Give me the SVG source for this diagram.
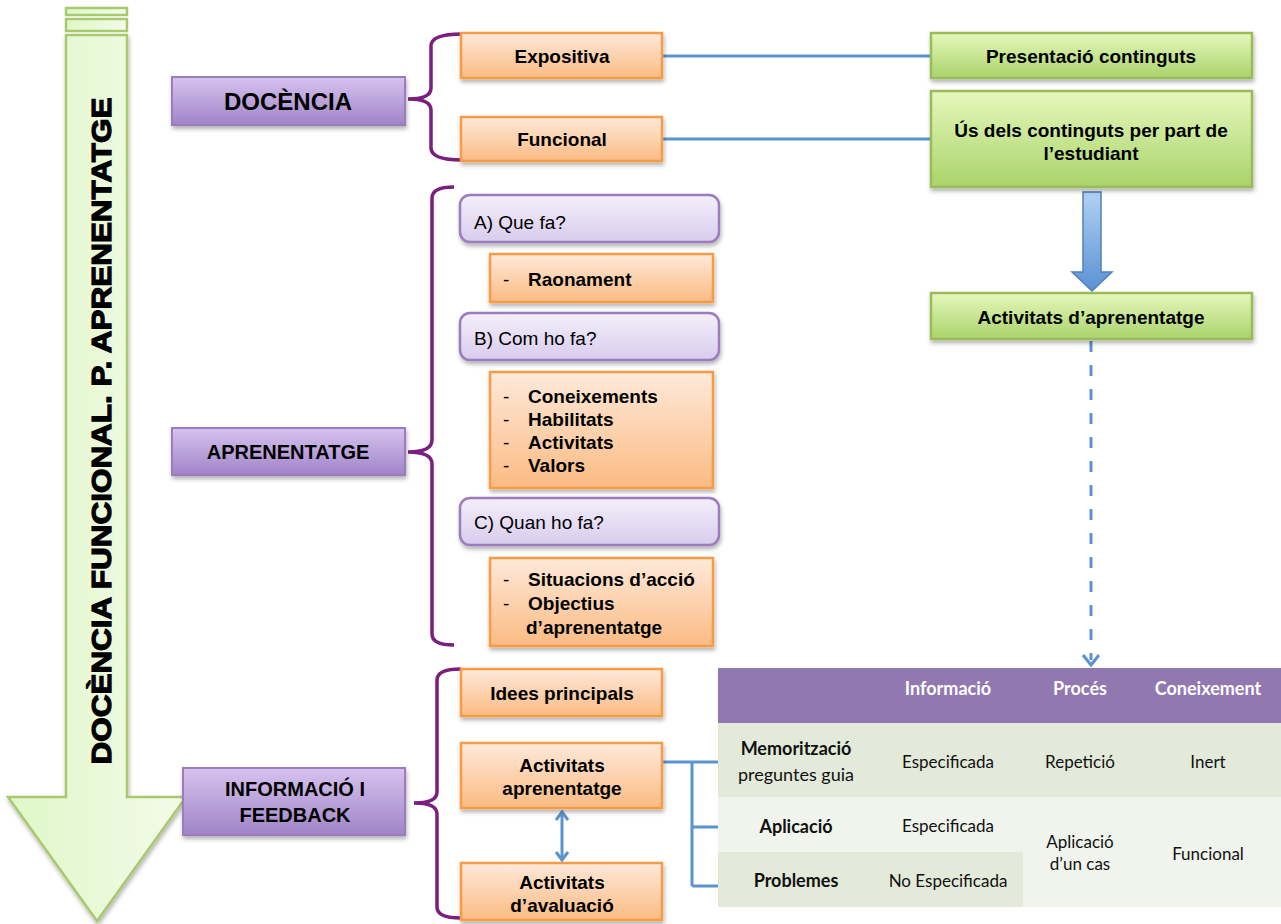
<svg xmlns="http://www.w3.org/2000/svg" width="1281" height="924" viewBox="0 0 1281 924">
<defs>
<linearGradient id="gPurple" x1="0" y1="0" x2="0" y2="1"><stop offset="0" stop-color="#d6c3ef"/><stop offset="1" stop-color="#a084c7"/></linearGradient>
<linearGradient id="gLilac" x1="0" y1="0" x2="0" y2="1"><stop offset="0" stop-color="#f4effa"/><stop offset="1" stop-color="#d9cced"/></linearGradient>
<linearGradient id="gOrange" x1="0" y1="0" x2="0" y2="1"><stop offset="0" stop-color="#fee9da"/><stop offset="1" stop-color="#fbbb83"/></linearGradient>
<linearGradient id="gGreen" x1="0" y1="0" x2="0" y2="1"><stop offset="0" stop-color="#e5f8bc"/><stop offset="1" stop-color="#aad36b"/></linearGradient>
<linearGradient id="gShaft" x1="0" y1="0" x2="1" y2="0"><stop offset="0" stop-color="#def7c8"/><stop offset="1" stop-color="#f4fbe9"/></linearGradient>
<linearGradient id="gBlue" x1="0" y1="0" x2="0" y2="1"><stop offset="0" stop-color="#b2d0f3"/><stop offset="1" stop-color="#5a92d4"/></linearGradient>
<filter id="sh" x="-10%" y="-10%" width="130%" height="140%"><feDropShadow dx="1" dy="3" stdDeviation="2" flood-color="#000" flood-opacity="0.3"/></filter>
<marker id="chevR" viewBox="0 0 14 14" refX="12" refY="7" markerWidth="14" markerHeight="14" markerUnits="userSpaceOnUse" orient="auto-start-reverse"><path d="M4 1 L12 7 L4 13" fill="none" stroke="#5b93cf" stroke-width="3"/></marker>
</defs>
<style>
.t{font-family:"Liberation Sans",Arial,sans-serif;fill:#000}
.b{font-weight:bold}
.f19{font-size:19px}
.pbox{fill:url(#gPurple);stroke:#9a7cbf;stroke-width:2;filter:url(#sh)}
.lbox{fill:url(#gLilac);stroke:#9a7cbf;stroke-width:2.5;filter:url(#sh)}
.obox{fill:url(#gOrange);stroke:#f79b46;stroke-width:2.5;filter:url(#sh)}
.gbox{fill:url(#gGreen);stroke:#9bbb59;stroke-width:2.5;filter:url(#sh)}
.brace{fill:none;stroke:#7a1e80;stroke-width:3.5}
.conn{fill:none;stroke:#5b93cf;stroke-width:3}
.tb{font-family:Lato,"Open Sans",sans-serif;font-size:17px;fill:#111;text-anchor:middle}
.tl{font-size:18px}
.th{font-family:Lato,"Open Sans",sans-serif;font-size:18px;font-weight:bold;fill:#fff;text-anchor:middle}
</style>

<g id="main-arrow">
<rect x="66" y="8" width="61" height="7" fill="url(#gShaft)" stroke="#a8c96e" stroke-width="2.5"/>
<rect x="66" y="19" width="61" height="12" fill="url(#gShaft)" stroke="#a8c96e" stroke-width="2.5"/>
<path d="M66 35 L127 35 L127 797 L186 797 L97 921 L8 797 L66 797 Z" fill="url(#gShaft)" stroke="#a8c96e" stroke-width="2.5" filter="url(#sh)"/>
<text class="t b" font-size="28" stroke="#000" stroke-width="1.2" text-anchor="middle" textLength="667" lengthAdjust="spacingAndGlyphs" transform="translate(111,431) rotate(-90)">DOCÈNCIA FUNCIONAL. P. APRENENTATGE</text>
</g>

<g id="connectors">
<path class="conn" d="M662 56 H931"/>
<path class="conn" d="M662 139 H931"/>
<path d="M1091 341 V660" fill="none" stroke="#5b93cf" stroke-width="3" stroke-dasharray="11 13"/>
<path d="M1083 655 L1091 665 L1099 655" fill="none" stroke="#5b93cf" stroke-width="3"/>
<path class="conn" d="M662 762 H718 M692 762 V886 M692 827 H718 M692 886 H718"/>
<path class="conn" d="M562 812 V860" marker-start="url(#chevR)" marker-end="url(#chevR)"/>
<path d="M1083 192 H1101 V272 H1112 L1092 291 L1072 272 H1083 Z" fill="url(#gBlue)" stroke="#4f81bd" stroke-width="1.5"/>
<path class="brace" d="M462 34 Q431 34 431 46 L431 88 Q431 99 408 99 Q431 99 431 110 L431 148 Q431 160 462 160"/>
<path class="brace" d="M454 187 Q432 187 432 198 L432 440 Q432 452 408 452 Q432 452 432 464 L432 634 Q432 645 454 645"/>
<path class="brace" d="M461 669 Q437 669 437 680 L437 792 Q437 803 414 803 Q437 803 437 814 L437 907 Q437 918 461 918"/>
</g>

<g id="docencia"><rect class="pbox" x="172" y="77" width="233" height="48"/><text class="t b" font-size="24" x="288" y="110" text-anchor="middle">DOCÈNCIA</text></g>
<g id="aprenentatge"><rect class="pbox" x="172" y="428" width="233" height="47"/><text class="t b" font-size="20" x="288" y="459" text-anchor="middle">APRENENTATGE</text></g>
<g id="informacio"><rect class="pbox" x="183" y="768" width="222" height="67"/><text class="t b" font-size="20" x="295" y="796" text-anchor="middle">INFORMACIÓ I</text><text class="t b" font-size="20" x="295" y="822" text-anchor="middle">FEEDBACK</text></g>

<g id="expositiva"><rect class="obox" x="461" y="33" width="201" height="45"/><text class="t b f19" x="562" y="63" text-anchor="middle">Expositiva</text></g>
<g id="funcional"><rect class="obox" x="461" y="117" width="201" height="44"/><text class="t b f19" x="562" y="146" text-anchor="middle">Funcional</text></g>

<g id="que-fa"><rect class="lbox" x="460" y="195" width="259" height="47" rx="10"/><text class="t f19" x="474" y="229">A) Que fa?</text></g>
<g id="raonament"><rect class="obox" x="490" y="254" width="223" height="48"/><text class="t f19" x="503" y="286">-</text><text class="t b f19" x="528" y="286">Raonament</text></g>
<g id="com-ho-fa"><rect class="lbox" x="460" y="313" width="259" height="47" rx="10"/><text class="t f19" x="474" y="345">B) Com ho fa?</text></g>
<g id="coneixements"><rect class="obox" x="490" y="372" width="223" height="116"/>
<text class="t f19" x="503" y="403">-</text><text class="t b f19" x="528" y="403">Coneixements</text>
<text class="t f19" x="503" y="426">-</text><text class="t b f19" x="528" y="426">Habilitats</text>
<text class="t f19" x="503" y="449">-</text><text class="t b f19" x="528" y="449">Activitats</text>
<text class="t f19" x="503" y="472">-</text><text class="t b f19" x="528" y="472">Valors</text></g>
<g id="quan-ho-fa"><rect class="lbox" x="460" y="498" width="259" height="47" rx="10"/><text class="t f19" x="474" y="529">C) Quan ho fa?</text></g>
<g id="situacions"><rect class="obox" x="490" y="558" width="223" height="88"/>
<text class="t f19" x="503" y="586">-</text><text class="t b f19" x="528" y="586">Situacions d’acció</text>
<text class="t f19" x="503" y="610">-</text><text class="t b f19" x="528" y="610">Objectius</text>
<text class="t b f19" x="526" y="634">d’aprenentatge</text></g>

<g id="idees"><rect class="obox" x="461" y="669" width="201" height="47"/><text class="t b f19" x="562" y="700" text-anchor="middle">Idees principals</text></g>
<g id="act-aprenentatge"><rect class="obox" x="461" y="743" width="201" height="65"/><text class="t b f19" x="562" y="772" text-anchor="middle">Activitats</text><text class="t b f19" x="562" y="795" text-anchor="middle">aprenentatge</text></g>
<g id="act-avaluacio"><rect class="obox" x="461" y="863" width="201" height="57"/><text class="t b f19" x="562" y="889" text-anchor="middle">Activitats</text><text class="t b f19" x="562" y="912" text-anchor="middle">d’avaluació</text></g>

<g id="presentacio"><rect class="gbox" x="931" y="33" width="321" height="45"/><text class="t b f19" x="1091" y="63" text-anchor="middle">Presentació continguts</text></g>
<g id="us-continguts"><rect class="gbox" x="931" y="91" width="321" height="96"/><text class="t b f19" x="1091" y="137" text-anchor="middle">Ús dels continguts per part de</text><text class="t b f19" x="1091" y="160" text-anchor="middle">l’estudiant</text></g>
<g id="activitats-aprenentatge"><rect class="gbox" x="931" y="293" width="321" height="46"/><text class="t b f19" x="1091" y="324" text-anchor="middle">Activitats d’aprenentatge</text></g>

<g id="table">
<rect x="718" y="668" width="563" height="55" fill="#9178b0"/>
<rect x="718" y="723" width="563" height="74" fill="#e3ead9"/>
<rect x="718" y="797" width="563" height="110" fill="#f0f4ec"/>
<rect x="718" y="852" width="305" height="55" fill="#e3ead9"/>
<text class="th" x="948" y="695">Informació</text>
<text class="th" x="1080" y="695">Procés</text>
<text class="th" x="1208" y="695">Coneixement</text>
<text class="tb tl" x="796" y="755" font-weight="bold">Memorització</text>
<text class="tb tl" x="796" y="781">preguntes guia</text>
<text class="tb" x="948" y="768">Especificada</text>
<text class="tb" x="1080" y="768">Repetició</text>
<text class="tb" x="1208" y="768">Inert</text>
<text class="tb tl" x="796" y="833" font-weight="bold">Aplicació</text>
<text class="tb" x="948" y="832">Especificada</text>
<text class="tb tl" x="796" y="887" font-weight="bold">Problemes</text>
<text class="tb" x="948" y="887">No Especificada</text>
<text class="tb" x="1080" y="848">Aplicació</text>
<text class="tb" x="1080" y="870">d’un cas</text>
<text class="tb" x="1208" y="860">Funcional</text>
</g>
</svg>
